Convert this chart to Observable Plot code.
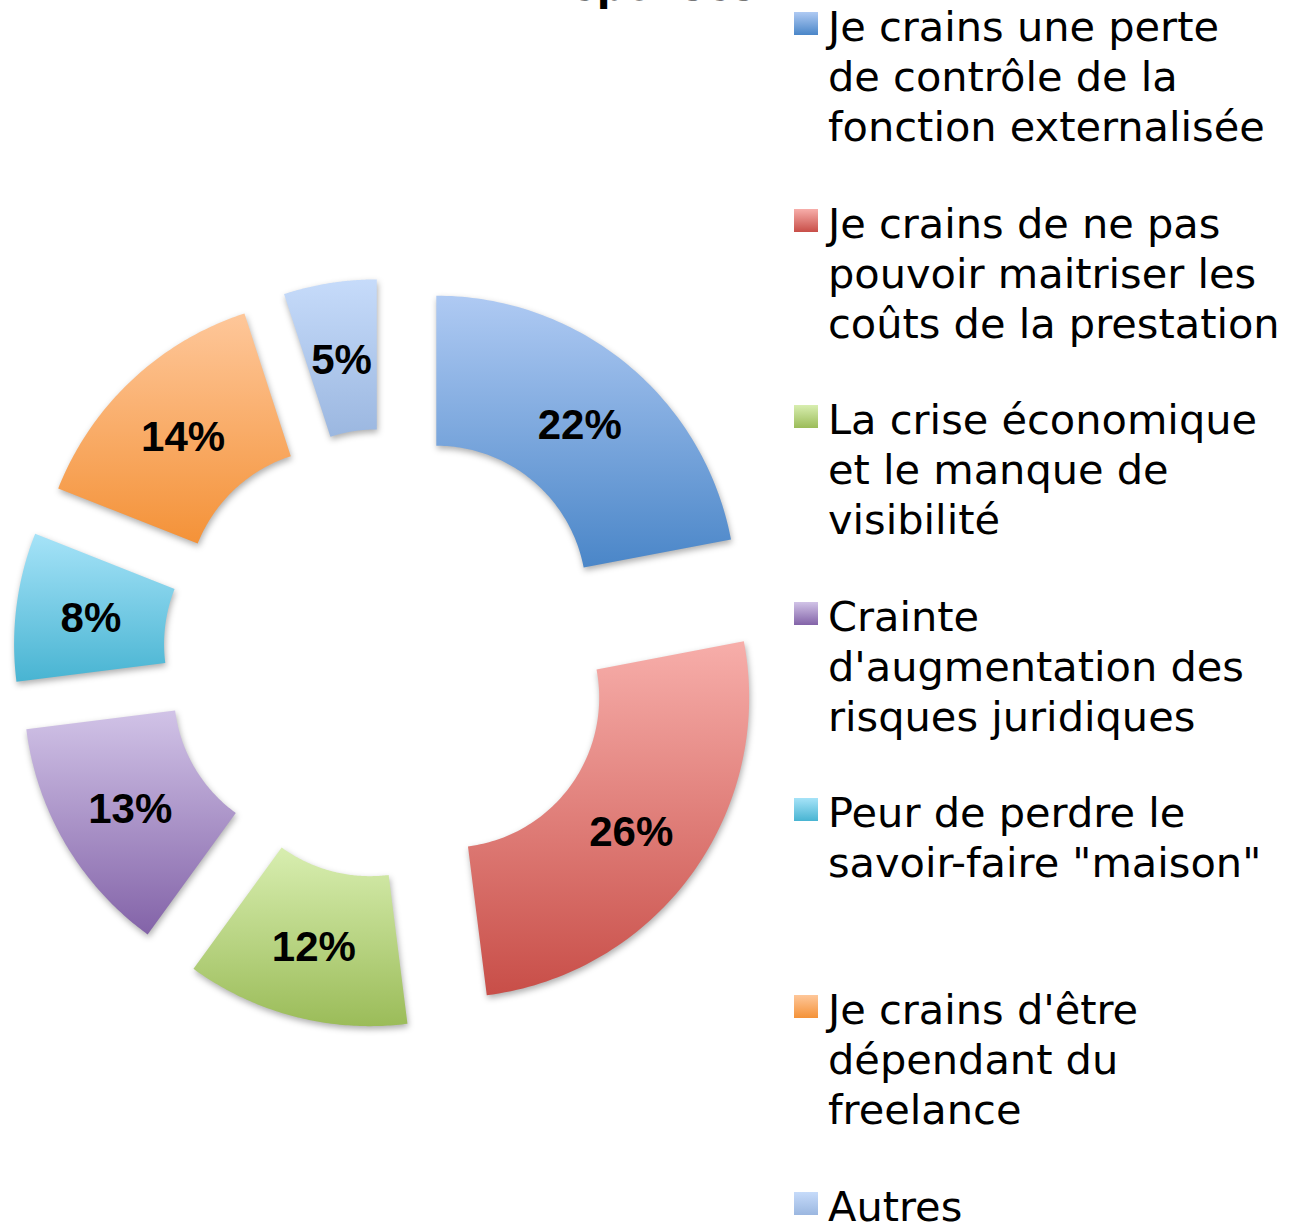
<!DOCTYPE html>
<html><head><meta charset="utf-8">
<script src="https://cdn.jsdelivr.net/npm/d3@7"></script>
<script src="https://cdn.jsdelivr.net/npm/@observablehq/plot@0.6"></script>
<style>
body{margin:0;background:#fff;}
#wrap{position:relative;width:1295px;height:1225px;overflow:hidden;font-family:"DejaVu Sans",sans-serif;color:#000;}
#chart{position:absolute;left:0;top:0;}
#title{position:absolute;left:0;width:1295px;text-align:center;top:-34.5px;font:bold 40px/40px "DejaVu Sans",sans-serif;}
#legend{position:absolute;left:794px;top:0;}
.item{position:relative;height:196.6px;}
.sw{position:absolute;left:0;top:12px;width:24px;height:23px;}
.lt{position:absolute;left:34px;top:2px;font-size:41.5px;line-height:50px;white-space:nowrap;}
#chart path{filter:drop-shadow(1px 3px 3px rgba(0,0,0,0.32));}
</style>
</head><body>
<svg width="0" height="0" style="position:absolute"><defs id="defs"></defs></svg>
<div id="wrap">
  <div id="title">Réponses</div>
  <div id="chart"></div>
  <div id="legend"></div>
</div>
<script>
// ---- data ----
const categories = [
  "Je crains une perte\nde contrôle de la\nfonction externalisée",
  "Je crains de ne pas\npouvoir maitriser les\ncoûts de la prestation",
  "La crise économique\net le manque de\nvisibilité",
  "Crainte\nd'augmentation des\nrisques juridiques",
  "Peur de perdre le\nsavoir-faire \"maison\"",
  "Je crains d'être\ndépendant du\nfreelance",
  "Autres"
];
const values = [22, 26, 12, 13, 8, 14, 5];
const valueLabels = ["22%", "26%", "12%", "13%", "8%", "14%", "5%"];
const topColors = ["#afcaf3", "#f7aeaa", "#d8eeb0", "#d1c3e7", "#a6e3f8", "#fec79a", "#c6dbfa"];
const bottomColors = ["#4a86c8", "#c84e48", "#9bbc59", "#8363a8", "#48b4d2", "#f49238", "#9bb7e0"];

// ---- gradients ----
const defs = document.getElementById("defs");
const NS = "http://www.w3.org/2000/svg";
values.forEach((v, i) => {
  const g = document.createElementNS(NS, "linearGradient");
  g.setAttribute("id", "grad" + i);
  g.setAttribute("x1", "0"); g.setAttribute("y1", "0");
  g.setAttribute("x2", "0"); g.setAttribute("y2", "1");
  [[0, topColors[i]], [1, bottomColors[i]]].forEach(([o, c]) => {
    const s = document.createElementNS(NS, "stop");
    s.setAttribute("offset", o);
    s.setAttribute("stop-color", c);
    g.appendChild(s);
  });
  defs.appendChild(g);
});

// ---- geometry (unit = outer radius) ----
const R_OUT = 1, R_IN = 0.5, EXPLODE = 0.25, PX = 300;
const W = 780, H = 1225, CX = 388, CY = 653;
const total = d3.sum(values);
let cum = 0;
const slices = values.map((v, i) => {
  const a0 = cum / total * 2 * Math.PI;
  cum += v;
  const a1 = cum / total * 2 * Math.PI;
  const mid = (a0 + a1) / 2;
  const ox = EXPLODE * Math.sin(mid), oy = EXPLODE * Math.cos(mid);
  const N = 80, pts = [];
  for (let k = 0; k <= N; k++) {
    const a = a0 + (a1 - a0) * k / N;
    pts.push({x: ox + R_OUT * Math.sin(a), y: oy + R_OUT * Math.cos(a)});
  }
  for (let k = N; k >= 0; k--) {
    const a = a0 + (a1 - a0) * k / N;
    pts.push({x: ox + R_IN * Math.sin(a), y: oy + R_IN * Math.cos(a)});
  }
  const rm = (R_IN + R_OUT) / 2;
  return {i, pts, label: valueLabels[i], lx: ox + rm * Math.sin(mid), ly: oy + rm * Math.cos(mid)};
});

const chart = Plot.plot({
  width: W, height: H,
  marginTop: 0, marginRight: 0, marginBottom: 0, marginLeft: 0,
  x: {domain: [-CX / PX, (W - CX) / PX], axis: null},
  y: {domain: [-(H - CY) / PX, CY / PX], axis: null},
  style: {background: "transparent", overflow: "visible"},
  marks: [
    ...slices.map(s => Plot.line(s.pts, {x: "x", y: "y", fill: `url(#grad${s.i})`, stroke: "none", curve: "linear-closed"})),
    Plot.text(slices, {x: "lx", y: "ly", text: "label", dy: 3, fontSize: 42, fontWeight: "bold", fontFamily: "Liberation Sans, Arial, sans-serif", fill: "#000"})
  ]
});
document.getElementById("chart").appendChild(chart);

// ---- legend ----
const legend = document.getElementById("legend");
categories.forEach((c, i) => {
  const item = document.createElement("div");
  item.className = "item";
  const sw = document.createElement("div");
  sw.className = "sw";
  sw.style.background = `linear-gradient(${topColors[i]}, ${bottomColors[i]})`;
  const lt = document.createElement("div");
  lt.className = "lt";
  lt.innerHTML = c.split("\n").map(s => s.replace(/&/g, "&amp;").replace(/</g, "&lt;")).join("<br>");
  item.appendChild(sw); item.appendChild(lt);
  legend.appendChild(item);
});
</script>
</body></html>
